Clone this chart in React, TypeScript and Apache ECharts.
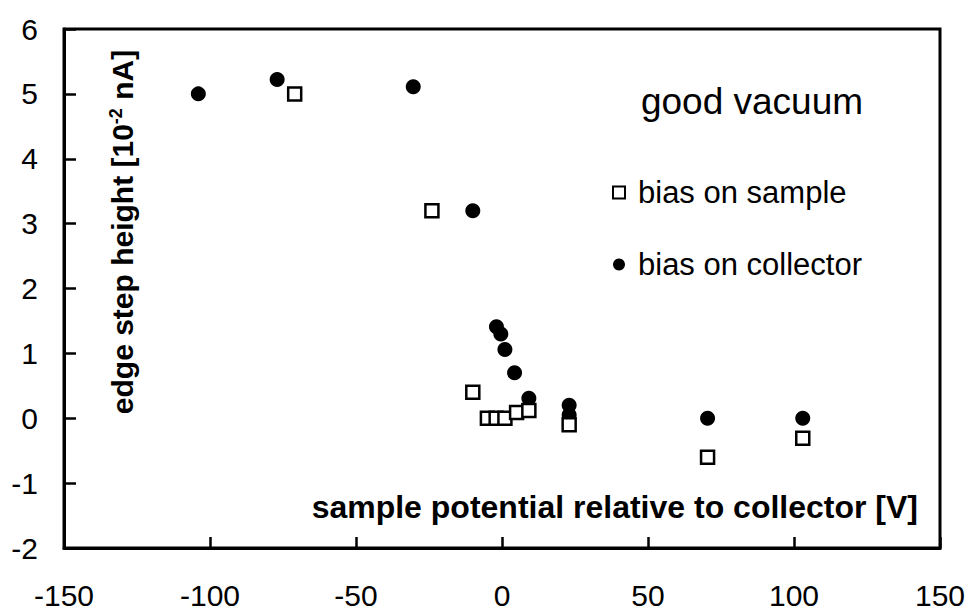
import React, { useEffect, useRef } from "react";
import * as echarts from "echarts";

const collectorX = [-104, -77, -30.4, -10, -1.9, -0.4, 1.0, 4.3, 9.2, 23, 23, 70.4, 103];
const collectorY = [5.0, 5.22, 5.11, 3.2, 1.41, 1.3, 1.06, 0.7, 0.31, 0.2, 0.05, 0.0, 0.0];
const sampleX = [-71, -24, -10, -5, -2, 1, 5, 9.2, 23, 70.4, 103];
const sampleY = [5.0, 3.2, 0.4, 0.0, 0.0, 0.0, 0.09, 0.12, -0.1, -0.6, -0.31];

const seriesNames = ["bias on sample", "bias on collector"];
const xTitle = "sample potential relative to collector [V]";
const annotation = "good vacuum";

const FONT = '"Liberation Sans", Arial, sans-serif';

export default function App() {
  const ref = useRef<HTMLDivElement>(null);
  useEffect(() => {
    if (!ref.current) return;
    const chart = echarts.init(ref.current, undefined, { renderer: "svg" });
    const sampleData = sampleX.map((x, i) => [x, sampleY[i]]);
    const collectorData = collectorX.map((x, i) => [x, collectorY[i]]);
    chart.setOption({
      animation: false,
      backgroundColor: "#fff",
      textStyle: { fontFamily: FONT, color: "#000" },
      grid: {
        left: 64,
        right: 29,
        top: 29,
        bottom: 61,
        show: true,
        borderColor: "#000",
        borderWidth: 3,
        backgroundColor: "transparent",
      },
      xAxis: {
        type: "value",
        min: -150,
        max: 150,
        interval: 50,
        splitLine: { show: false },
        axisLine: { show: true, onZero: false, lineStyle: { color: "#000", width: 3 } },
        axisTick: { show: true, inside: true, length: 11, lineStyle: { color: "#000", width: 2.5 } },
        axisLabel: { fontSize: 30, lineHeight: 28, color: "#000", fontFamily: FONT, margin: 33 },
      },
      yAxis: {
        type: "value",
        min: -2,
        max: 6,
        interval: 1,
        splitLine: { show: false },
        axisLine: { show: true, onZero: false, lineStyle: { color: "#000", width: 3 } },
        axisTick: { show: true, inside: true, length: 12, lineStyle: { color: "#000", width: 2.5 } },
        axisLabel: { fontSize: 30, color: "#000", fontFamily: FONT, margin: 26 },
      },
      legend: {
        orient: "vertical",
        left: 607,
        top: 172,
        itemGap: 41,
        itemWidth: 12,
        itemHeight: 12,
        textStyle: { fontSize: 31, color: "#000", fontFamily: FONT, padding: [0, 0, 0, 8] },
        data: [
          { name: seriesNames[0], icon: "rect", itemStyle: { color: "#fff", borderColor: "#000", borderWidth: 2, opacity: 1 } },
          { name: seriesNames[1], icon: "circle", itemStyle: { color: "#000", borderWidth: 0, opacity: 1 } },
        ],
      },
      graphic: [
        {
          type: "text",
          x: 752,
          y: 101,
          style: {
            text: annotation,
            font: `37px ${FONT}`,
            fill: "#000",
            align: "center",
            verticalAlign: "middle",
          },
        },
        {
          type: "text",
          x: 918,
          y: 507,
          style: {
            text: xTitle,
            font: `bold 32px ${FONT}`,
            fill: "#000",
            align: "right",
            verticalAlign: "middle",
          },
        },
        {
          type: "text",
          x: 122,
          y: 232,
          rotation: Math.PI / 2,
          style: {
            text: "{b|edge step height [10}{s|-2}{b| nA]}",
            align: "center",
            verticalAlign: "middle",
            fill: "#000",
            rich: {
              b: { fill: "#000", fontSize: 30, fontWeight: "bold", fontFamily: FONT },
              s: { fill: "#000", fontSize: 18, fontWeight: "bold", fontFamily: FONT, verticalAlign: "top", padding: [0, 0, 12, 0] },
            },
          },
        },
      ],
      series: [
        {
          name: seriesNames[1],
          type: "scatter",
          symbol: "circle",
          symbolSize: 15,
          z: 2,
          itemStyle: { color: "#000", opacity: 1 },
          data: collectorData,
        },
        {
          name: seriesNames[0],
          type: "scatter",
          symbol: "rect",
          symbolSize: 13,
          z: 3,
          itemStyle: { color: "#fff", borderColor: "#000", borderWidth: 2.5, opacity: 1 },
          data: sampleData,
        },
      ],
    });
    return () => chart.dispose();
  }, []);
  return (
    <div
      ref={ref}
      style={{ position: "fixed", left: 0, top: 0, width: 969, height: 610, background: "#fff" }}
    />
  );
}
